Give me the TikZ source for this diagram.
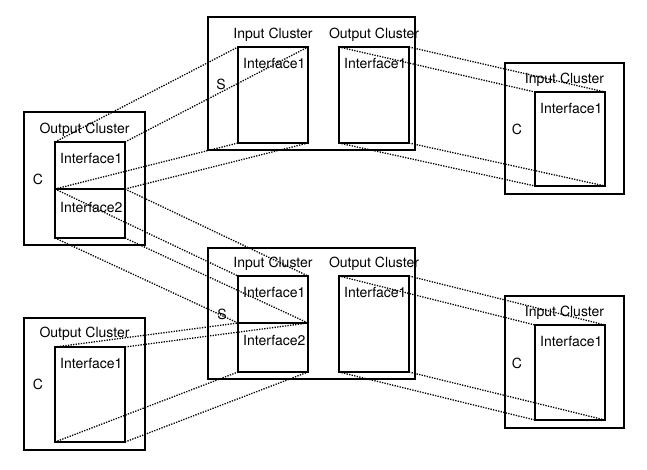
\documentclass[tikz,border=0pt]{standalone}
\usepackage{fontspec}
\setmainfont{TeX Gyre Heros}
\usetikzlibrary{positioning}
\tikzset{
  cluster/.style={draw,line width=1.9pt,anchor=north west,inner sep=0pt,outer sep=0pt},
  iface/.style={draw,line width=1.9pt,anchor=north west,inner sep=0pt,outer sep=0pt,
    minimum width=70pt},
  lbl/.style={inner sep=0pt,font=\fontsize{14}{16}\selectfont},
  iflbl/.style={lbl,anchor=west},
  link/.style={line width=1.3pt,dash pattern=on 1.3pt off 1.3pt}
}

\begin{document}
\begin{tikzpicture}[x=1pt,y=-1pt]
  \fill[white] (0,0) rectangle (647,470);
  \useasboundingbox (0,0) rectangle (647,470);

  % client, top left
  \node[cluster,minimum width=121pt,minimum height=133pt] (cA) at (24,112) {};
  \node[lbl] (cAtitle) at (84.5,130) {Output Cluster};
  \node[lbl] (cAname) at (38,179) {C};
  \node[iface,minimum height=47pt] (cA1) at (55,142) {};
  \node[iface,minimum height=49pt] (cA2) at (55,189) {};
  \node[iflbl] (cA1t) at (60,158) {Interface1};
  \node[iflbl] (cA2t) at (60,207) {Interface2};

  % server, top
  \node[cluster,minimum width=207pt,minimum height=133pt] (sA) at (208,17) {};
  \node[lbl] (sAintitle) at (273,35) {Input Cluster};
  \node[lbl] (sAouttitle) at (374,35) {Output Cluster};
  \node[lbl] (sAname) at (221,84) {S};
  \node[iface,minimum height=96pt] (sAin) at (238,47) {};
  \node[iface,minimum height=96pt] (sAout) at (339,47) {};
  \node[iflbl] (sAint) at (243,63) {Interface1};
  \node[iflbl] (sAoutt) at (344,63) {Interface1};

  % client, top right
  \node[cluster,minimum width=119pt,minimum height=131pt] (cB) at (505,63) {};
  \node[lbl] (cBtitle) at (564.5,80) {Input Cluster};
  \node[lbl] (cBname) at (517,129) {C};
  \node[iface,minimum height=94pt] (cBin) at (535,92) {};
  \node[iflbl] (cBint) at (540,108) {Interface1};

  % server, bottom
  \node[cluster,minimum width=207pt,minimum height=131pt] (sB) at (208,248) {};
  \node[lbl] (sBintitle) at (273,264) {Input Cluster};
  \node[lbl] (sBouttitle) at (374,264) {Output Cluster};
  \node[lbl] (sBname) at (222,314) {S};
  \node[iface,minimum height=47pt] (sBin1) at (238,276) {};
  \node[iface,minimum height=49pt] (sBin2) at (238,323) {};
  \node[iface,minimum height=96pt] (sBout) at (339,276) {};
  \node[iflbl] (sBin1t) at (243,292) {Interface1};
  \node[iflbl] (sBin2t) at (243,340) {Interface2};
  \node[iflbl] (sBoutt) at (344,292) {Interface1};

  % client, bottom left
  \node[cluster,minimum width=121pt,minimum height=132pt] (cD) at (24,318) {};
  \node[lbl] (cDtitle) at (84.5,334) {Output Cluster};
  \node[lbl] (cDname) at (38,384) {C};
  \node[iface,minimum height=95pt] (cDout) at (55,347) {};
  \node[iflbl] (cDoutt) at (60,363) {Interface1};

  % client, bottom right
  \node[cluster,minimum width=119pt,minimum height=132pt] (cE) at (505,296) {};
  \node[lbl] (cEtitle) at (564.5,313) {Input Cluster};
  \node[lbl] (cEname) at (517,363) {C};
  \node[iface,minimum height=95pt] (cEin) at (535,325) {};
  \node[iflbl] (cEint) at (540,341) {Interface1};

  % bindings, corner to corner
  \foreach \c in {north west,north east,south west,south east} {
    \draw[link] (cA1.\c) -- (sAin.\c);
    \draw[link] (cA2.\c) -- (sBin1.\c);
    \draw[link] (cDout.\c) -- (sBin2.\c);
    \draw[link] (sAout.\c) -- (cBin.\c);
    \draw[link] (sBout.\c) -- (cEin.\c);
  }
\end{tikzpicture}
\end{document}
